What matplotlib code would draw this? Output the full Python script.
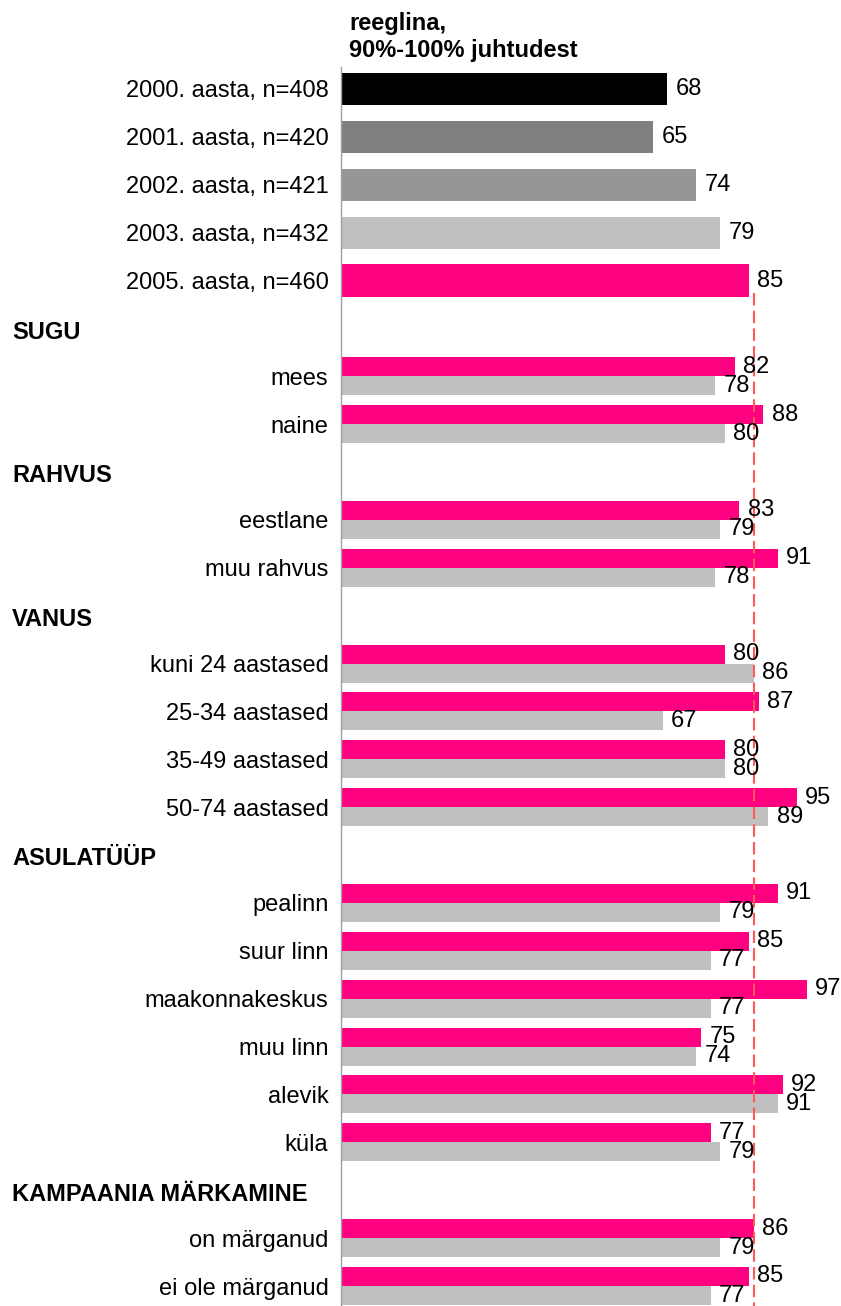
import numpy as np
import matplotlib.pyplot as plt
from matplotlib.transforms import blended_transform_factory

plt.rcParams['font.family'] = ['Liberation Sans', 'DejaVu Sans']

# yearly totals
year_labels = ["2000. aasta, n=408", "2001. aasta, n=420", "2002. aasta, n=421",
               "2003. aasta, n=432", "2005. aasta, n=460"]
year_values = [68, 65, 74, 79, 85]
year_colors = ["#000000", "#808080", "#969696", "#C0C0C0", "#FF0080"]

# groups: (heading, categories, 2005 values, 2003 values)
groups = ["SUGU", "RAHVUS", "VANUS", "ASULATÜÜP", "KAMPAANIA MÄRKAMINE"]
group_cats = [
    ["mees", "naine"],
    ["eestlane", "muu rahvus"],
    ["kuni 24 aastased", "25-34 aastased", "35-49 aastased", "50-74 aastased"],
    ["pealinn", "suur linn", "maakonnakeskus", "muu linn", "alevik", "küla"],
    ["on märganud", "ei ole märganud"],
]
vals_2005 = [
    [82, 88],
    [83, 91],
    [80, 87, 80, 95],
    [91, 85, 97, 75, 92, 77],
    [86, 85],
]
vals_2003 = [
    [78, 80],
    [79, 78],
    [86, 67, 80, 89],
    [79, 77, 77, 74, 91, 79],
    [79, 77],
]
ref_value = 86

pink = "#FF0080"
gray = "#C0C0C0"
fs = 17

fig = plt.figure(figsize=(8.41, 13.06), dpi=100)
ax = fig.add_axes([341 / 841, 0, 500 / 841, 1 - 67 / 1306])

slot = 0
tick_pos, tick_lab = [], []
for lab, v, c in zip(year_labels, year_values, year_colors):
    ax.barh(slot, v, height=0.67, color=c)
    ax.annotate(str(v), (v, slot), xytext=(6, 0), textcoords="offset points",
                va="center", ha="left", fontsize=fs)
    tick_pos.append(slot)
    tick_lab.append(lab)
    slot += 1

trans = blended_transform_factory(fig.transFigure, ax.transData)
h = 0.397
for g, cats, a, b in zip(groups, group_cats, vals_2005, vals_2003):
    ax.text(12 / 841, slot + 0.08, g, transform=trans, fontsize=fs, fontweight="bold",
            ha="left", va="center")
    slot += 1
    for cat, va5, va3 in zip(cats, a, b):
        ax.barh(slot - h / 2, va5, height=h, color=pink)
        ax.barh(slot + h / 2, va3, height=h, color=gray)
        ax.annotate(str(va5), (va5, slot - h / 2), xytext=(6, 0), textcoords="offset points",
                    va="center", ha="left", fontsize=fs)
        ax.annotate(str(va3), (va3, slot + h / 2), xytext=(6, 0), textcoords="offset points",
                    va="center", ha="left", fontsize=fs)
        tick_pos.append(slot)
        tick_lab.append(cat)
        slot += 1

ytop = (67 - 89) / 47.88
ybot = (1306 - 89) / 47.88
ax.plot([ref_value, ref_value], [(293 - 89) / 47.88, ybot], color="#FF5A5A",
        linestyle=(0, (6, 2.5)), linewidth=1.5, clip_on=False)

ax.set_xlim(0, 500 / 4.8)
ax.set_ylim(ybot, ytop)
ax.set_yticks(tick_pos)
ax.set_yticklabels(tick_lab, fontsize=fs)
ax.tick_params(axis="y", length=0, pad=9)
ax.set_xticks([])
for s in ["top", "right", "bottom"]:
    ax.spines[s].set_visible(False)
ax.spines["left"].set_color("#A0A0A0")
ax.spines["left"].set_linewidth(1)

fig.text(349 / 841, 1 - 37 / 1306, "reeglina,\n90%-100% juhtudest", fontsize=fs,
         fontweight="bold", ha="left", va="center", linespacing=1.2)

plt.savefig("out.png", dpi=100)
